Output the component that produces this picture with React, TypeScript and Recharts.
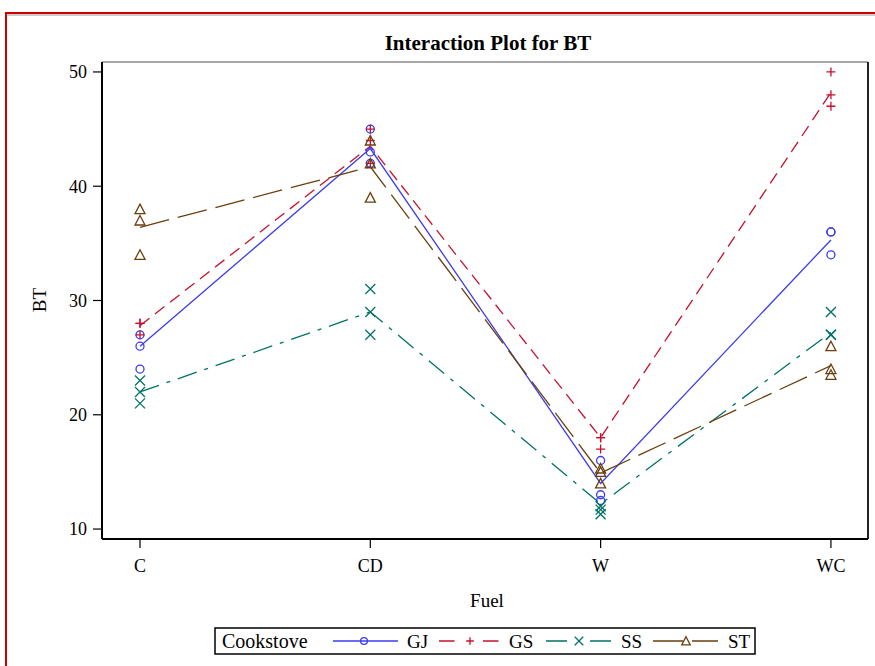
import React from 'react';
import { ScatterChart, Scatter, XAxis, YAxis, ReferenceLine } from 'recharts';

// Categories
const fuels = ['C', 'CD', 'W', 'WC'];
const cookstoves = ['GJ', 'GS', 'SS', 'ST'];
const yTicks = [10, 20, 30, 40, 50];

// Observations (replicates) per fuel: C, CD, W, WC
const gjObs = [[27, 26, 24], [45, 43, 42], [16, 13, 12.5], [36, 36, 34]];
const gsObs = [[28, 28, 27], [45, 44, 42], [18, 18, 17], [50, 48, 47]];
const ssObs = [[23, 22, 21], [31, 29, 27], [12, 11.7, 11.3], [29, 27, 27]];
const stObs = [[38, 37, 34], [44, 42, 39], [15.3, 15, 14], [26, 24, 23.5]];

// Mean lines
const gjMean = [26, 43.3, 14, 35.3];
const gsMean = [27.8, 43.5, 18, 48.2];
const ssMean = [22, 29, 12.2, 27.2];
const stMean = [36.4, 41.7, 14.9, 24.3];

const obsList = [gjObs, gsObs, ssObs, stObs];
const meanList = [gjMean, gsMean, ssMean, stMean];

const styles: Record<string, { color: string; dash: string; legendDash: string; marker: string }> = {
  GJ: { color: '#3b3bf0', dash: '', legendDash: '', marker: 'circle' },
  GS: { color: '#c8102e', dash: '12 7', legendDash: '15.5 28.5', marker: 'plus' },
  SS: { color: '#007266', dash: '20 8 4 8', legendDash: '21 23', marker: 'x' },
  ST: { color: '#6a3f0c', dash: '30 9', legendDash: '30 9', marker: 'triangle' },
};

const FONT = "'Liberation Serif', 'Times New Roman', serif";

function Marker({ cx, cy, kind, color, size = 1 }: any) {
  if (cx == null || cy == null) return <g />;
  const sw = 1.3;
  if (kind === 'circle') {
    return <circle cx={cx} cy={cy} r={4 * size} fill="none" stroke={color} strokeWidth={sw} />;
  }
  if (kind === 'plus') {
    const s = 4.5 * size;
    return <path d={`M${cx - s},${cy}H${cx + s}M${cx},${cy - s}V${cy + s}`} stroke={color} strokeWidth={sw} fill="none" />;
  }
  if (kind === 'x') {
    const s = 5 * size;
    return <path d={`M${cx - s},${cy - s}L${cx + s},${cy + s}M${cx - s},${cy + s}L${cx + s},${cy - s}`} stroke={color} strokeWidth={sw} fill="none" />;
  }
  const s = 5 * size;
  return <path d={`M${cx},${cy - s}L${cx + s},${cy + s * 0.9}L${cx - s},${cy + s * 0.9}Z`} stroke={color} strokeWidth={sw} fill="none" />;
}

const BTLabel = () => (
  <text x={46} y={300} transform="rotate(-90 46 300)" textAnchor="middle" fontSize={19} fontFamily={FONT} fill="#000">
    BT
  </text>
);

const FuelLabel = () => (
  <text x={487} y={607} textAnchor="middle" fontSize={19} fontFamily={FONT} fill="#000">
    Fuel
  </text>
);

const legendItems = [
  { name: 'GJ', x1: 333, x2: 398, mx: 364, tx: 407 },
  { name: 'GS', x1: 439, x2: 498.5, mx: 470, tx: 509 },
  { name: 'SS', x1: 546, x2: 611, mx: 579, tx: 621 },
  { name: 'ST', x1: 653, x2: 718, mx: 686, tx: 728 },
];

export default function App() {
  const obsData = obsList.map((obs) =>
    obs.flatMap((vals, i) => vals.map((v) => ({ x: i, y: v })))
  );
  const meanData = meanList.map((m) => m.map((v, i) => ({ x: i, y: v })));

  return (
    <div style={{ position: 'absolute', left: 0, top: 0, width: 875, height: 666, overflow: 'hidden', background: '#fff', fontFamily: FONT }}>
      <ScatterChart width={875} height={666} margin={{ top: 62, right: 7, bottom: 57, left: 0 }}>
        <XAxis
          type="number"
          dataKey="x"
          domain={[-0.165, 3.161]}
          ticks={[0, 1, 2, 3]}
          allowDataOverflow
          tickFormatter={(v: number) => fuels[v] ?? ''}
          height={70}
          tickSize={9}
          tickMargin={11}
          axisLine={{ stroke: '#000', strokeWidth: 2 }}
          tickLine={{ stroke: '#000', strokeWidth: 1.2 }}
          tick={{ fontSize: 18, fill: '#000', fontFamily: FONT }}
          label={<FuelLabel />}
        />
        <YAxis
          type="number"
          dataKey="y"
          domain={[9.13, 50.87]}
          ticks={yTicks}
          allowDataOverflow
          width={102}
          tickSize={9}
          tickMargin={6}
          axisLine={{ stroke: '#000', strokeWidth: 2 }}
          tickLine={{ stroke: '#000', strokeWidth: 1.2 }}
          tick={{ fontSize: 18, fill: '#000', fontFamily: FONT }}
          label={<BTLabel />}
        />
        <ReferenceLine y={50.87} stroke="#8a8a8a" strokeWidth={1.5} />
        <ReferenceLine x={3.161} stroke="#222" strokeWidth={2} />
        {cookstoves.map((c, k) => (
          <Scatter
            key={'line-' + c}
            name={c + ' mean'}
            data={meanData[k]}
            isAnimationActive={false}
            line={{ stroke: styles[c].color, strokeWidth: 1.3, strokeDasharray: styles[c].dash || undefined }}
            lineType="joint"
            shape={() => <g />}
          />
        ))}
        {cookstoves.map((c, k) => (
          <Scatter
            key={'pts-' + c}
            name={c}
            data={obsData[k]}
            isAnimationActive={false}
            shape={(p: any) => <Marker cx={p.cx} cy={p.cy} kind={styles[c].marker} color={styles[c].color} />}
          />
        ))}
      </ScatterChart>

      <svg width={875} height={666} style={{ position: 'absolute', left: 0, top: 0, pointerEvents: 'none' }}>
        {/* outer red frame */}
        <line x1={5} y1={13} x2={875} y2={13} stroke="#cc0000" strokeWidth={2} />
        <line x1={6} y1={13} x2={6} y2={666} stroke="#cc0000" strokeWidth={2} />
        <line x1={7} y1={15} x2={875} y2={15} stroke="#9a9a9a" strokeWidth={1} />
        {/* title */}
        <text x={488} y={50} textAnchor="middle" fontSize={21} fontWeight="bold" fontFamily={FONT} fill="#000">
          Interaction Plot for BT
        </text>
        {/* legend */}
        <rect x={215} y={628} width={540} height={26} fill="none" stroke="#000" strokeWidth={1.5} />
        <text x={222} y={648} fontSize={20} fontFamily={FONT} fill="#000">Cookstove</text>
        {legendItems.map((it) => {
          const st = styles[it.name];
          return (
            <g key={it.name}>
              <line x1={it.x1} y1={641} x2={it.x2} y2={641} stroke={st.color} strokeWidth={1.3} strokeDasharray={st.legendDash || undefined} />
              <Marker cx={it.mx} cy={641} kind={st.marker} color={st.color} size={0.85} />
              <text x={it.tx} y={648} fontSize={19} fontFamily={FONT} fill="#000">{it.name}</text>
            </g>
          );
        })}
      </svg>
    </div>
  );
}
